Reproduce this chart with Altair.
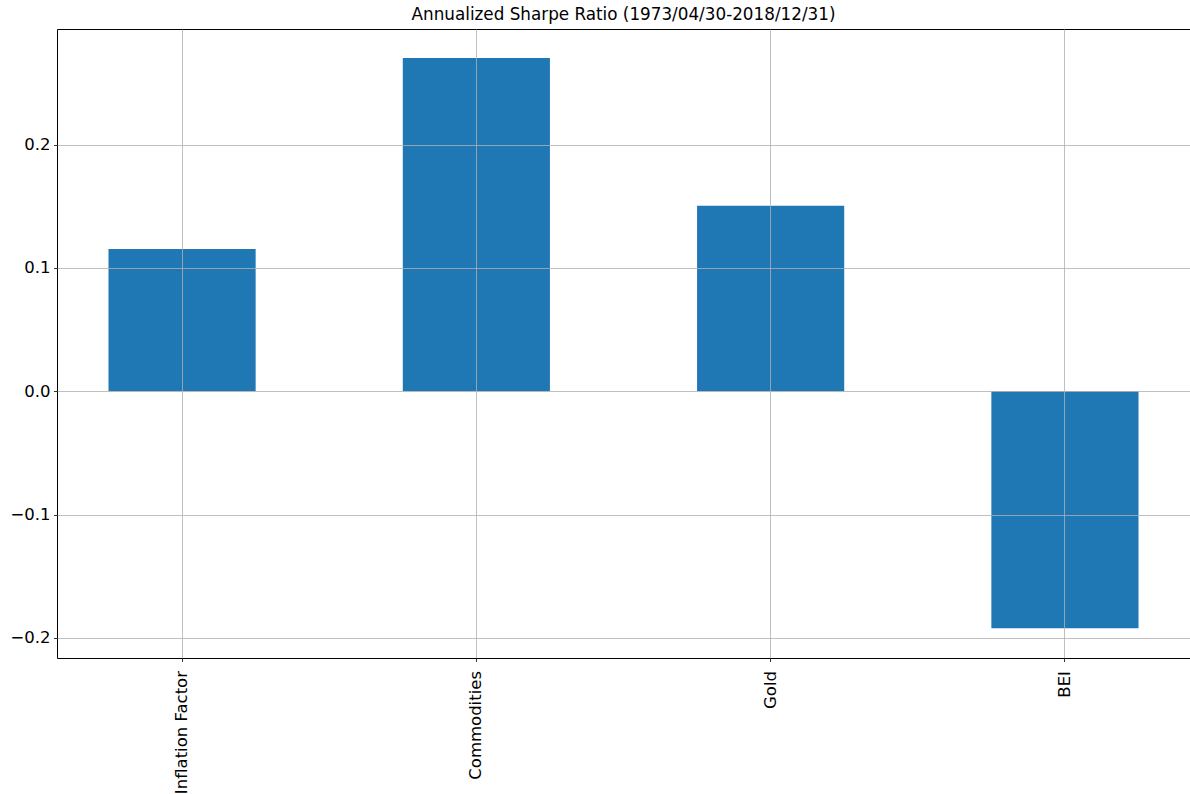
import altair as alt
import pandas as pd

# Annualized Sharpe ratios per asset
assets = ["Inflation Factor", "Commodities", "Gold", "BEI"]
sharpe = [0.1154, 0.2703, 0.1504, -0.1922]

df = pd.DataFrame({"asset": assets, "sharpe": sharpe})

FONT = "DejaVu Sans"

bars = alt.Chart(df).mark_bar(color="#1f77b4").encode(
    x=alt.X(
        "asset:N",
        sort=assets,
        title=None,
        scale=alt.Scale(paddingInner=0.5, paddingOuter=0.175),
        axis=alt.Axis(
            labelAngle=270,
            labelFontSize=16.5,
            labelFont=FONT,
            labelColor="#000000",
            labelPadding=9,
            tickSize=3.5,
            tickWidth=0.8,
            tickColor="#000000",
            grid=True,
            gridColor="#b0b0b0",
            gridWidth=0.8,
            domain=False,
            zindex=1,
        ),
    ),
    y=alt.Y(
        "sharpe:Q",
        title=None,
        scale=alt.Scale(domain=[-0.2163, 0.2938], nice=False, zero=False),
        axis=alt.Axis(
            values=[-0.2, -0.1, 0.0, 0.1, 0.2],
            format=".1f",
            labelFontSize=16.5,
            labelFont=FONT,
            labelColor="#000000",
            labelPadding=3.5,
            tickSize=3.5,
            tickWidth=0.8,
            tickColor="#000000",
            grid=True,
            gridColor="#b0b0b0",
            gridWidth=0.8,
            domain=False,
            zindex=1,
        ),
    ),
)

chart = bars.properties(
    width=1133,
    height=629,
    background="white",
    title=alt.TitleParams(
        "Annualized Sharpe Ratio (1973/04/30-2018/12/31)",
        font=FONT,
        fontSize=16.8,
        fontWeight="normal",
        color="#000000",
        anchor="middle",
        offset=5,
    ),
    autosize=alt.AutoSizeParams(type="none"),
    padding={"left": 57, "top": 29, "right": 0, "bottom": 136},
).configure_view(
    stroke="#000000",
    strokeWidth=1,
)

chart.save("out.html", embed_options={"renderer": "svg", "actions": False})
